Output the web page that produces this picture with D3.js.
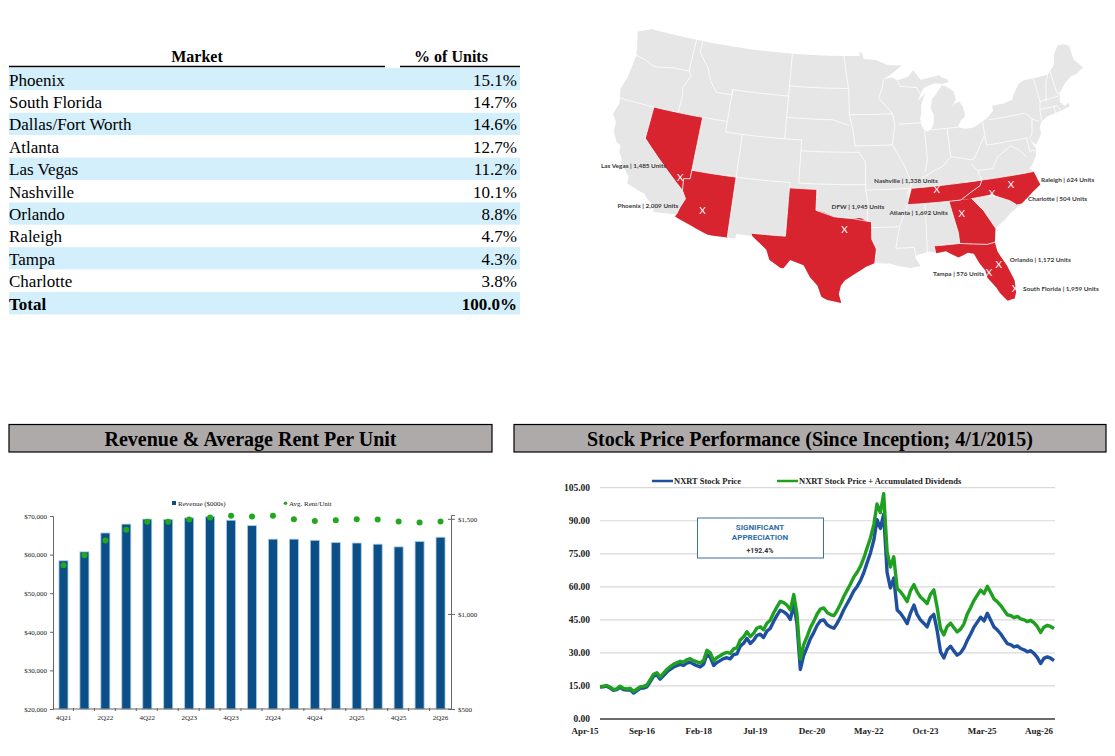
<!DOCTYPE html>
<html>
<head>
<meta charset="utf-8">
<script src="https://cdn.jsdelivr.net/npm/d3@7"></script>
<style>
  body { margin: 0; background: #fff; }
  svg { display: block; }
</style>
</head>
<body>
<svg id="page" width="1115" height="756"></svg>
<script>
// ---- market table ----
const markets = ["Phoenix", "South Florida", "Dallas/Fort Worth", "Atlanta", "Las Vegas",
  "Nashville", "Orlando", "Raleigh", "Tampa", "Charlotte"];
const unitShare = [15.1, 14.7, 14.6, 12.7, 11.2, 10.1, 8.8, 4.7, 4.3, 3.8];
const shareTotal = 100.0;

// ---- map cities ----
const cities = ["Las Vegas", "Phoenix", "DFW", "Nashville", "Atlanta", "Raleigh",
  "Charlotte", "Orlando", "Tampa", "South Florida"];
const cityUnits = [1485, 2009, 1945, 1338, 1692, 624, 504, 1172, 576, 1959];
const cityLonLat = [[-115.15, 36.17], [-112.07, 33.45], [-96.9, 32.8], [-86.78, 36.16],
  [-84.39, 33.75], [-78.64, 35.78], [-80.84, 35.23], [-81.38, 28.54], [-82.46, 27.95], [-80.2, 26.1]];

// ---- revenue & rent ----
const quarters = ["4Q21", "1Q22", "2Q22", "3Q22", "4Q22", "1Q23", "2Q23", "3Q23", "4Q23", "1Q24",
  "2Q24", "3Q24", "4Q24", "1Q25", "2Q25", "3Q25", "4Q25", "1Q26", "2Q26"];
const revenue = [58400, 60700, 65600, 67900, 69200, 69100, 69500, 69800, 68900, 67500,
  64000, 64000, 63700, 63100, 63000, 62700, 62000, 63400, 64500];
const avgRent = [1256, 1309, 1386, 1442, 1484, 1484, 1496, 1507, 1516, 1512,
  1516, 1498, 1489, 1493, 1498, 1496, 1486, 1480, 1486];
const revTicks = [20000, 30000, 40000, 50000, 60000, 70000];
const rentTicks = [500, 1000, 1500];

// ---- stock price (monthly, from Apr-15) ----
const stockStart = new Date(2015, 3, 1);
const stockPrice = [
  14.5, 14.6, 14.9, 14.1, 13.0, 13.3, 14.4, 13.4, 13.1, 13.3, 11.8, 12.8,
  13.9, 14.0, 14.6, 16.8, 19.4, 20.0, 18.1, 19.7, 21.4, 22.6, 23.6, 24.2,
  24.8, 24.3, 25.4, 25.8, 24.9, 24.2, 23.6, 24.9, 29.3, 28.0, 24.3, 25.6,
  26.5, 27.4, 27.8, 27.3, 29.2, 29.6, 33.1, 34.4, 36.6, 34.3, 35.8, 37.9,
  38.5, 37.0, 39.9, 41.1, 44.3, 47.0, 49.4, 48.7, 47.5, 45.2, 52.1, 43.2,
  22.5, 28.8, 32.5, 36.4, 39.2, 42.5, 44.6, 45.0, 42.8, 41.8, 41.2, 43.3,
  46.2, 49.5, 52.3, 55.0, 58.1, 60.2, 62.8, 66.5, 71.0, 75.5, 81.5, 90.5,
  86.5, 93.0, 66.5, 59.5, 64.0, 49.5, 48.0, 45.8, 43.3, 48.2, 51.7, 47.5,
  45.0, 43.5, 41.8, 46.0, 47.5, 40.0, 30.5, 27.7, 31.5, 33.0, 30.8, 29.0,
  30.0, 32.2, 35.7, 38.5, 41.7, 44.0, 46.2, 44.5, 48.0, 44.8, 41.7, 40.5,
  38.7, 36.5, 34.2, 33.8, 32.7, 33.2, 32.0, 31.4, 30.5, 31.0, 29.7, 28.0,
  25.2, 27.5, 28.2, 27.6, 26.5];
const stockWithDiv = [
  14.7, 14.9, 15.2, 14.5, 13.4, 13.7, 14.9, 13.9, 13.6, 13.9, 12.5, 13.5,
  14.6, 14.8, 15.4, 17.7, 20.3, 21.0, 19.1, 20.8, 22.5, 23.8, 24.9, 25.5,
  26.2, 25.8, 26.9, 27.4, 26.5, 25.9, 25.4, 26.7, 31.2, 30.0, 26.4, 27.8,
  28.7, 29.7, 30.2, 29.8, 31.8, 32.3, 35.9, 37.3, 39.6, 37.4, 39.0, 41.2,
  41.9, 40.5, 43.5, 44.8, 48.1, 50.9, 53.4, 52.8, 51.7, 49.5, 56.5, 47.7,
  27.2, 33.6, 37.4, 41.4, 44.3, 47.7, 49.9, 50.4, 48.3, 47.4, 46.9, 49.1,
  52.1, 55.5, 58.4, 61.2, 64.4, 66.6, 69.3, 73.1, 77.7, 82.3, 88.5, 97.6,
  93.7, 102.3, 75.9, 69.0, 73.6, 59.2, 57.8, 55.7, 53.3, 58.3, 61.0, 57.8,
  55.4, 54.0, 52.4, 56.5, 58.6, 50.5, 41.0, 38.2, 42.0, 43.5, 41.4, 39.5,
  40.8, 43.1, 47.6, 50.5, 53.8, 56.2, 58.5, 56.9, 60.2, 57.4, 54.4, 53.3,
  51.6, 49.5, 47.3, 47.0, 46.0, 46.6, 45.5, 45.0, 44.2, 44.8, 43.6, 42.0,
  39.3, 41.7, 42.5, 42.0, 41.0];
const stockYTicks = [0, 15, 30, 45, 60, 75, 90, 105];

// ---- map geometry (lon, lat) ----
const usOutline = [
  [-124.7, 48.4], [-123.0, 49.0], [-95.15, 49.0], [-95.15, 49.38], [-94.8, 49.3], [-94.6, 48.7],
  [-93.0, 48.6], [-91.4, 48.05], [-89.6, 48.0], [-90.9, 47.3], [-92.1, 46.75], [-91.0, 46.9],
  [-90.4, 46.6], [-89.0, 46.85], [-88.2, 47.45], [-88.0, 47.2], [-87.4, 46.5], [-86.4, 46.6],
  [-85.0, 46.75], [-84.6, 46.45], [-84.0, 46.3], [-83.9, 46.0], [-84.7, 45.9], [-85.6, 46.05],
  [-86.6, 45.85], [-87.1, 45.7], [-87.6, 45.1], [-88.0, 44.55], [-87.5, 44.85], [-87.0, 45.25],
  [-87.6, 44.1], [-87.7, 43.3], [-87.9, 42.9], [-87.8, 42.3], [-87.6, 41.85], [-87.2, 41.62],
  [-86.6, 41.9], [-86.3, 42.4], [-86.2, 43.1], [-86.5, 43.8], [-86.2, 44.6], [-85.6, 45.05],
  [-85.0, 45.6], [-84.75, 45.78], [-84.2, 45.6], [-83.4, 45.05], [-83.3, 44.3], [-83.9, 43.65],
  [-83.5, 43.95], [-82.9, 44.05], [-82.6, 43.6], [-82.45, 42.95], [-82.5, 42.6], [-83.1, 42.3],
  [-83.5, 41.73], [-82.7, 41.5], [-81.7, 41.5], [-80.5, 41.95], [-79.8, 42.25], [-79.0, 42.8],
  [-79.05, 43.25], [-77.6, 43.25], [-76.5, 43.45], [-76.2, 43.9], [-75.3, 44.8], [-74.7, 45.0],
  [-71.5, 45.01], [-71.1, 45.3], [-70.6, 45.6], [-70.3, 45.9], [-70.0, 46.7], [-69.2, 47.45],
  [-68.3, 47.35], [-67.8, 47.07], [-67.8, 45.7], [-67.4, 45.3], [-67.0, 44.8], [-68.0, 44.4],
  [-68.8, 44.3], [-69.8, 43.8], [-70.7, 43.1], [-70.8, 42.7], [-71.0, 42.3], [-70.5, 41.8],
  [-70.0, 42.05], [-69.95, 41.7], [-70.6, 41.55], [-71.4, 41.45], [-72.9, 41.25], [-73.7, 40.9],
  [-74.0, 40.5], [-74.1, 39.8], [-74.95, 38.93], [-75.5, 39.5], [-75.05, 38.6], [-75.2, 38.0],
  [-75.9, 37.15], [-76.3, 36.95], [-75.9, 36.55], [-75.5, 35.25], [-76.5, 34.7], [-77.9, 33.85],
  [-79.2, 33.2], [-80.0, 32.6], [-81.1, 32.0], [-81.4, 30.7], [-81.3, 29.8], [-80.6, 28.4],
  [-80.1, 26.9], [-80.15, 25.8], [-80.4, 25.2], [-81.1, 25.1], [-81.7, 25.9], [-82.0, 26.5],
  [-82.7, 27.5], [-82.8, 28.2], [-83.3, 29.0], [-83.7, 29.9], [-84.3, 30.05], [-85.3, 29.7],
  [-86.5, 30.4], [-87.5, 30.3], [-88.1, 30.5], [-89.4, 30.3], [-89.7, 30.1], [-89.2, 29.2],
  [-90.2, 29.1], [-91.3, 29.3], [-92.3, 29.6], [-93.8, 29.7], [-94.7, 29.35], [-95.8, 28.7],
  [-96.8, 28.1], [-97.2, 27.6], [-97.4, 26.8], [-97.15, 25.95], [-98.5, 26.2], [-99.1, 26.5],
  [-99.5, 27.5], [-100.3, 28.3], [-101.0, 29.4], [-102.4, 29.8], [-103.0, 29.0], [-103.3, 29.0],
  [-104.5, 29.7], [-104.9, 30.6], [-106.5, 31.75], [-108.2, 31.78], [-108.2, 31.33], [-111.07, 31.33],
  [-114.8, 32.5], [-114.7, 32.72], [-117.1, 32.53], [-117.3, 33.1], [-118.3, 33.75], [-118.5, 34.0],
  [-119.2, 34.15], [-120.6, 34.55], [-120.65, 35.2], [-121.9, 36.3], [-121.9, 36.6], [-122.4, 37.2],
  [-122.5, 37.8], [-123.0, 38.0], [-123.7, 38.9], [-123.8, 39.8], [-124.4, 40.4], [-124.1, 41.5],
  [-124.2, 42.0], [-124.5, 42.8], [-124.1, 44.0], [-123.9, 46.2], [-124.1, 46.9], [-124.7, 48.4]
];

const redStates = [
  // Nevada
  [[-120.0, 42.0], [-114.04, 42.0], [-114.04, 36.2], [-114.75, 36.1], [-114.6, 35.0], [-120.0, 39.0], [-120.0, 42.0]],
  // Arizona
  [[-114.04, 37.0], [-109.05, 37.0], [-109.05, 31.33], [-111.07, 31.33], [-114.8, 32.5], [-114.7, 32.72],
   [-114.5, 33.4], [-114.1, 34.3], [-114.6, 35.0], [-114.75, 36.1], [-114.04, 36.2], [-114.04, 37.0]],
  // Texas
  [[-103.04, 36.5], [-100.0, 36.5], [-100.0, 34.56], [-99.2, 34.4], [-98.0, 34.0], [-96.9, 33.9], [-96.0, 33.85],
   [-95.2, 33.9], [-94.5, 33.6], [-94.05, 33.55], [-94.05, 31.9], [-93.6, 31.0], [-93.8, 29.7], [-94.7, 29.35],
   [-95.8, 28.7], [-96.8, 28.1], [-97.2, 27.6], [-97.4, 26.8], [-97.15, 25.95], [-98.5, 26.2], [-99.1, 26.5],
   [-99.5, 27.5], [-100.3, 28.3], [-101.0, 29.4], [-102.4, 29.8], [-103.0, 29.0], [-103.3, 29.0], [-104.5, 29.7],
   [-104.9, 30.6], [-106.5, 31.75], [-106.6, 32.0], [-103.06, 32.0], [-103.04, 36.5]],
  // Tennessee
  [[-90.3, 35.0], [-84.3, 35.0], [-83.1, 35.6], [-82.0, 36.1], [-81.7, 36.6], [-83.7, 36.6], [-88.1, 36.5],
   [-89.5, 36.5], [-89.7, 36.0], [-90.1, 35.1], [-90.3, 35.0]],
  // North Carolina
  [[-84.3, 35.0], [-83.1, 35.0], [-80.9, 35.1], [-79.1, 34.3], [-78.5, 33.85], [-77.9, 33.85], [-76.5, 34.7],
   [-75.5, 35.25], [-75.9, 36.55], [-81.7, 36.6], [-82.0, 36.1], [-83.1, 35.6], [-84.3, 35.0]],
  // Georgia
  [[-85.6, 35.0], [-83.1, 35.0], [-82.0, 33.7], [-81.1, 32.0], [-81.4, 30.7], [-82.2, 30.6], [-85.0, 31.0],
   [-85.0, 32.0], [-85.6, 35.0]],
  // Florida
  [[-87.6, 31.0], [-85.0, 31.0], [-82.2, 30.6], [-81.4, 30.7], [-81.3, 29.8], [-80.6, 28.4], [-80.1, 26.9],
   [-80.15, 25.8], [-80.4, 25.2], [-81.1, 25.1], [-81.7, 25.9], [-82.0, 26.5], [-82.7, 27.5], [-82.8, 28.2],
   [-83.3, 29.0], [-83.7, 29.9], [-84.3, 30.05], [-85.3, 29.7], [-86.5, 30.4], [-87.5, 30.3], [-87.6, 31.0]]
];

const stateBorders = [
  [[-124.0, 46.25], [-122.9, 46.1], [-121.2, 45.65], [-119.0, 45.95], [-116.9, 46.0]],
  [[-116.9, 49.0], [-116.9, 46.0], [-116.5, 45.6], [-117.2, 44.3], [-117.0, 43.8], [-117.03, 42.0]],
  [[-124.2, 42.0], [-111.05, 42.0]],
  [[-120.0, 42.0], [-120.0, 39.0], [-114.6, 35.0]],
  [[-114.6, 35.0], [-114.75, 36.1], [-114.04, 36.2], [-114.04, 42.0]],
  [[-114.6, 35.0], [-114.1, 34.3], [-114.5, 33.4], [-114.7, 32.72]],
  [[-114.04, 37.0], [-103.0, 37.0]],
  [[-109.05, 31.33], [-109.05, 41.0]],
  [[-103.0, 37.0], [-103.04, 36.5], [-103.06, 32.0], [-106.6, 32.0]],
  [[-111.05, 42.0], [-111.05, 41.0], [-102.05, 41.0]],
  [[-116.05, 49.0], [-116.05, 47.9], [-114.6, 46.6], [-114.0, 45.5], [-113.0, 44.5], [-111.05, 44.5], [-111.05, 45.0]],
  [[-111.05, 45.0], [-104.05, 45.0]],
  [[-111.05, 45.0], [-111.05, 42.0]],
  [[-102.05, 41.0], [-102.05, 37.0]],
  [[-104.05, 49.0], [-104.05, 41.0]],
  [[-104.05, 45.94], [-96.56, 45.94]],
  [[-104.05, 43.0], [-98.5, 43.0], [-96.5, 42.5]],
  [[-102.05, 40.0], [-95.3, 40.0]],
  [[-102.05, 37.0], [-94.6, 37.0]],
  [[-103.0, 36.5], [-100.0, 36.5], [-100.0, 34.56], [-98.0, 34.0], [-96.0, 33.85], [-94.5, 33.6], [-94.05, 33.55]],
  [[-95.3, 40.0], [-94.6, 39.1], [-94.6, 36.5], [-94.4, 35.4], [-94.5, 33.6]],
  [[-94.05, 33.55], [-94.05, 31.9], [-93.6, 31.0], [-93.8, 29.7]],
  [[-94.05, 33.0], [-91.2, 33.0]],
  [[-97.2, 49.0], [-96.6, 46.0], [-96.56, 45.94], [-96.45, 43.5], [-91.2, 43.5]],
  [[-96.45, 43.5], [-96.0, 42.0], [-95.77, 40.6], [-91.4, 40.6]],
  [[-94.6, 36.5], [-89.7, 36.5], [-90.1, 36.0]],
  [[-91.2, 43.5], [-91.0, 42.5], [-91.4, 40.6], [-90.2, 38.7], [-89.5, 37.0], [-89.7, 36.5], [-90.1, 35.0],
   [-91.1, 33.0], [-91.6, 31.0], [-89.7, 31.0], [-89.6, 30.2]],
  [[-92.1, 46.75], [-92.3, 46.0], [-92.8, 45.0], [-91.2, 43.5]],
  [[-90.6, 42.5], [-87.8, 42.5]],
  [[-90.4, 46.6], [-90.0, 46.0], [-88.0, 45.8], [-87.6, 45.1]],
  [[-87.5, 41.7], [-87.5, 39.0], [-87.9, 37.9]],
  [[-89.1, 37.0], [-88.0, 37.5], [-87.0, 37.9], [-85.8, 38.3], [-84.8, 39.1], [-82.6, 38.6], [-82.2, 38.6], [-80.6, 40.6]],
  [[-84.8, 41.7], [-84.8, 39.1]],
  [[-87.2, 41.76], [-83.5, 41.73]],
  [[-80.52, 41.95], [-80.52, 39.72], [-75.8, 39.72]],
  [[-79.76, 42.0], [-75.4, 42.0], [-75.1, 41.8], [-74.7, 41.35]],
  [[-89.5, 36.5], [-81.7, 36.6]],
  [[-90.3, 35.0], [-84.3, 35.0], [-83.1, 35.6], [-82.0, 36.1], [-81.7, 36.6]],
  [[-83.7, 36.6], [-75.9, 36.55]],
  [[-83.1, 35.0], [-80.9, 35.1], [-79.1, 34.3], [-78.5, 33.85]],
  [[-83.1, 35.0], [-82.0, 33.7], [-81.1, 32.0]],
  [[-85.6, 35.0], [-85.0, 32.0], [-85.0, 31.0], [-82.2, 30.6], [-81.4, 30.7]],
  [[-88.2, 35.0], [-88.4, 30.4]],
  [[-87.6, 31.0], [-85.0, 31.0]],
  [[-82.6, 38.2], [-82.0, 37.5], [-81.7, 36.6]],
  [[-82.0, 37.5], [-80.3, 37.5], [-79.5, 38.5], [-77.8, 39.3], [-77.0, 38.8], [-76.3, 38.0]],
  [[-75.8, 39.72], [-75.8, 38.45], [-75.05, 38.45]],
  [[-74.7, 41.35], [-75.1, 40.0], [-75.5, 39.6]],
  [[-74.7, 41.35], [-74.0, 41.0]],
  [[-73.35, 45.0], [-73.25, 42.75], [-73.5, 42.05], [-73.65, 41.0]],
  [[-73.25, 42.75], [-70.8, 42.87]],
  [[-73.5, 42.05], [-71.8, 42.0], [-71.8, 41.3]],
  [[-71.8, 42.0], [-71.4, 42.0], [-71.1, 41.5]],
  [[-72.5, 42.73], [-72.0, 44.3], [-71.5, 45.0]],
  [[-71.1, 45.3], [-71.0, 43.1], [-70.7, 43.1]]
];

// label placement next to each city marker
const cityLabelLayout = [
  { anchor: "end", dx: -14, dy: -9 }, { anchor: "end", dx: -24, dy: -3 },
  { anchor: "start", dx: -13, dy: -21 }, { anchor: "end", dx: 1, dy: -7 },
  { anchor: "end", dx: -14, dy: 2 }, { anchor: "start", dx: 30, dy: -2 },
  { anchor: "start", dx: 36, dy: 8 }, { anchor: "start", dx: 11, dy: -3 },
  { anchor: "end", dx: -5, dy: 3 }, { anchor: "start", dx: 8, dy: 2 }
];

const svg = d3.select("#page");
const serif = "'Liberation Serif', 'Times New Roman', serif";

// ================= table =================
function drawTable() {
  const g = svg.append("g");
  const x0 = 9, x1 = 520, top = 68, rowH = 22.4;
  const rows = markets.map((m, i) => ({ name: m, pct: unitShare[i], bold: false }));
  rows.push({ name: "Total", pct: shareTotal, bold: true });

  g.append("text").attr("x", 197).attr("y", 62).attr("text-anchor", "middle")
    .attr("font-family", serif).attr("font-weight", "bold").attr("font-size", 16).text("Market");
  g.append("text").attr("x", 451).attr("y", 62).attr("text-anchor", "middle")
    .attr("font-family", serif).attr("font-weight", "bold").attr("font-size", 16).text("% of Units");
  g.append("line").attr("x1", x0).attr("x2", 385).attr("y1", 66.5).attr("y2", 66.5)
    .attr("stroke", "#000").attr("stroke-width", 1.3);
  g.append("line").attr("x1", 400).attr("x2", x1).attr("y1", 66.5).attr("y2", 66.5)
    .attr("stroke", "#000").attr("stroke-width", 1.3);

  const row = g.selectAll("g.row").data(rows).join("g").attr("class", "row")
    .attr("transform", (d, i) => `translate(0,${top + i * rowH})`);
  row.append("rect").attr("x", x0).attr("width", x1 - x0).attr("height", rowH)
    .attr("fill", (d, i) => i % 2 === 0 ? "#d3effb" : "#fff");
  row.append("text").attr("x", x0).attr("y", 17.5)
    .attr("font-family", serif).attr("font-size", 17)
    .attr("font-weight", d => d.bold ? "bold" : "normal").text(d => d.name);
  row.append("text").attr("x", x1 - 3).attr("y", 17.5).attr("text-anchor", "end")
    .attr("font-family", serif).attr("font-size", 17)
    .attr("font-weight", d => d.bold ? "bold" : "normal").text(d => d3.format(".1f")(d.pct) + "%");
}

// ================= map =================
function densify(coords, step) {
  const out = [];
  for (let i = 0; i < coords.length - 1; i++) {
    const a = coords[i], b = coords[i + 1];
    const n = Math.max(1, Math.ceil(Math.max(Math.abs(b[0] - a[0]), Math.abs(b[1] - a[1])) / step));
    for (let k = 0; k < n; k++) out.push([a[0] + (b[0] - a[0]) * k / n, a[1] + (b[1] - a[1]) * k / n]);
  }
  out.push(coords[coords.length - 1]);
  return out;
}
function polygon(coords) {
  return { type: "Polygon", coordinates: [densify(coords, 0.5)] };
}

function drawMap() {
  const g = svg.append("g");
  const outline = polygon(usOutline);
  // Albers conic, stretched to the box the reference map fills
  const albers = d3.geoAlbers().fitSize([1000, 600], outline);
  const b = d3.geoPath(albers).bounds(outline);
  const box = [[613, 29], [1083, 303]];
  const sx = (box[1][0] - box[0][0]) / (b[1][0] - b[0][0]);
  const sy = (box[1][1] - box[0][1]) / (b[1][1] - b[0][1]);
  const project = c => {
    const p = albers(c);
    return [box[0][0] + (p[0] - b[0][0]) * sx, box[0][1] + (p[1] - b[0][1]) * sy];
  };
  const path = d3.geoPath(d3.geoTransform({
    point(lon, lat) { const p = project([lon, lat]); this.stream.point(p[0], p[1]); }
  }));

  g.append("path").datum(outline).attr("d", path).attr("fill", "#e6e6e6");
  g.selectAll("path.red").data(redStates.map(polygon)).join("path").attr("class", "red")
    .attr("d", path).attr("fill", "#d7242f");
  g.append("path")
    .datum({ type: "MultiLineString", coordinates: stateBorders.map(s => densify(s, 0.5)) })
    .attr("d", path).attr("fill", "none").attr("stroke", "#fff").attr("stroke-width", 0.8);

  const pts = cityLonLat.map(project);
  g.selectAll("text.x").data(pts).join("text").attr("class", "x")
    .attr("x", d => d[0]).attr("y", d => d[1] + 3.5).attr("text-anchor", "middle")
    .attr("font-family", "Lato, sans-serif").attr("font-size", 10).attr("fill", "#fff").text("X");
  g.selectAll("text.lbl").data(cities).join("text").attr("class", "lbl")
    .attr("x", (d, i) => pts[i][0] + cityLabelLayout[i].dx)
    .attr("y", (d, i) => pts[i][1] + cityLabelLayout[i].dy)
    .attr("text-anchor", (d, i) => cityLabelLayout[i].anchor)
    .attr("font-family", "Lato, sans-serif").attr("font-weight", "bold").attr("font-size", 6.4)
    .attr("fill", "#3a3a3a")
    .text((d, i) => `${d} | ${d3.format(",")(cityUnits[i])} Units`);
}

// ================= title boxes =================
function titleBox(x, w, label) {
  svg.append("rect").attr("x", x).attr("y", 424.5).attr("width", w).attr("height", 27.5)
    .attr("fill", "#aeaaaa").attr("stroke", "#000").attr("stroke-width", 1.2);
  svg.append("text").attr("x", x + w / 2).attr("y", 446).attr("text-anchor", "middle")
    .attr("font-family", serif).attr("font-weight", "bold").attr("font-size", 20).text(label);
}

// ================= revenue chart =================
function drawRevenue() {
  const g = svg.append("g").attr("font-family", serif);
  const x = d3.scaleBand().domain(quarters).range([53, 451]).paddingInner(0.57).paddingOuter(0.285);
  const yL = d3.scaleLinear().domain([20000, 70000]).range([709, 516]);
  const yR = d3.scaleLinear().domain([500, 1520]).range([709, 515]);

  g.selectAll("rect.bar").data(revenue).join("rect").attr("class", "bar")
    .attr("x", (d, i) => x(quarters[i])).attr("width", x.bandwidth())
    .attr("y", d => yL(d)).attr("height", d => yL(20000) - yL(d))
    .attr("fill", "#0b4f86").attr("stroke", "#a8cbe9").attr("stroke-width", 0.8);

  g.selectAll("circle.rent").data(avgRent).join("circle").attr("class", "rent")
    .attr("cx", (d, i) => x(quarters[i]) + x.bandwidth() / 2).attr("cy", d => yR(d))
    .attr("r", 3).attr("fill", "#22a81e");

  const left = g.append("g").attr("transform", "translate(53,0)")
    .call(d3.axisLeft(yL).tickValues(revTicks).tickFormat(d3.format("$,")).tickSize(3).tickPadding(3));
  const right = g.append("g").attr("transform", "translate(451,0)")
    .call(d3.axisRight(yR).tickValues(rentTicks).tickFormat(d3.format("$,")).tickSize(4).tickPadding(3));
  right.selectAll(".tick line").attr("x1", -3);
  const bottom = g.append("g").attr("transform", "translate(0,709)")
    .call(d3.axisBottom(x).tickSize(0).tickPadding(6)
      .tickFormat((d, i) => i % 2 === 0 ? d : ""));
  bottom.select(".domain").attr("d", "M53,0H451");
  [left, right, bottom].forEach(a => {
    a.selectAll("text").attr("font-family", serif).attr("font-size", 7).attr("fill", "#222");
    a.select(".domain").attr("stroke", "#666");
    a.selectAll(".tick line").attr("stroke", "#666");
  });
  // tick marks between quarters
  g.selectAll("line.qtick").data(quarters.slice(1)).join("line").attr("class", "qtick")
    .attr("x1", d => x(d) - x.step() * x.paddingInner() / 2 - 0.5)
    .attr("x2", d => x(d) - x.step() * x.paddingInner() / 2 - 0.5)
    .attr("y1", 708).attr("y2", 711).attr("stroke", "#666");

  // legend
  g.append("rect").attr("x", 172).attr("y", 501).attr("width", 4).attr("height", 4).attr("fill", "#0b4f86");
  g.append("text").attr("x", 178).attr("y", 505.5).attr("font-size", 7).attr("fill", "#222").text("Revenue ($000s)");
  g.append("circle").attr("cx", 285.5).attr("cy", 503.2).attr("r", 1.8).attr("fill", "#22a81e");
  g.append("text").attr("x", 289).attr("y", 505.5).attr("font-size", 7).attr("fill", "#222").text("Avg. Rent/Unit");
}

// ================= stock chart =================
function drawStock() {
  const g = svg.append("g").attr("font-family", serif);
  const dates = stockPrice.map((d, i) => d3.timeMonth.offset(stockStart, i));
  const x = d3.scaleTime().domain([stockStart, dates[dates.length - 1]]).range([600, 1054]);
  const y = d3.scaleLinear().domain([0, 105]).range([719, 487.7]);

  g.selectAll("line.grid").data(stockYTicks.slice(1)).join("line").attr("class", "grid")
    .attr("x1", 600).attr("x2", 1055).attr("y1", d => y(d)).attr("y2", d => y(d))
    .attr("stroke", "#d9d9d9").attr("stroke-width", 1.2);
  g.append("line").attr("x1", 600).attr("x2", 1055).attr("y1", y(0)).attr("y2", y(0))
    .attr("stroke", "#3a3a3a").attr("stroke-width", 1.6);

  g.selectAll("text.yl").data(stockYTicks).join("text").attr("class", "yl")
    .attr("x", 590).attr("y", d => y(d) + 3).attr("text-anchor", "end")
    .attr("font-weight", "bold").attr("font-size", 9.5).attr("fill", "#222").text(d3.format(".2f"));

  const xTicks = d3.range(9).map(i => d3.timeMonth.offset(stockStart, 17 * i));
  g.selectAll("text.xl").data(xTicks).join("text").attr("class", "xl")
    .attr("x", d => x(d) - 15).attr("y", 734).attr("text-anchor", "middle")
    .attr("font-weight", "bold").attr("font-size", 9).attr("fill", "#222").text(d3.timeFormat("%b-%y"));

  const line = d3.line().x((d, i) => x(dates[i])).y(d => y(d));
  g.append("path").datum(stockPrice).attr("d", line).attr("fill", "none")
    .attr("stroke", "#1f4f9f").attr("stroke-width", 3.4).attr("stroke-linejoin", "round");
  g.append("path").datum(stockWithDiv).attr("d", line).attr("fill", "none")
    .attr("stroke", "#20a020").attr("stroke-width", 3.4).attr("stroke-linejoin", "round");

  // legend
  g.append("line").attr("x1", 652).attr("x2", 673).attr("y1", 481).attr("y2", 481)
    .attr("stroke", "#1f4f9f").attr("stroke-width", 2.5);
  g.append("text").attr("x", 674).attr("y", 484).attr("font-weight", "bold").attr("font-size", 8.5)
    .attr("fill", "#222").text("NXRT Stock Price");
  g.append("line").attr("x1", 777).attr("x2", 798).attr("y1", 481).attr("y2", 481)
    .attr("stroke", "#20a020").attr("stroke-width", 2.5);
  g.append("text").attr("x", 799).attr("y", 484).attr("font-weight", "bold").attr("font-size", 8.5)
    .attr("fill", "#222").text("NXRT Stock Price + Accumulated Dividends");

  // annotation
  g.append("rect").attr("x", 697.5).attr("y", 518).attr("width", 126).attr("height", 40)
    .attr("fill", "#fff").attr("stroke", "#3e6fa3").attr("stroke-width", 1);
  const ann = g.append("g").attr("font-family", "Roboto, 'DejaVu Sans', sans-serif")
    .attr("text-anchor", "middle").attr("font-weight", "bold");
  ann.append("text").attr("x", 760).attr("y", 529.5).attr("font-size", 8).attr("fill", "#2f6eab").text("SIGNIFICANT");
  ann.append("text").attr("x", 760).attr("y", 539.5).attr("font-size", 8).attr("fill", "#2f6eab").text("APPRECIATION");
  ann.append("text").attr("x", 760).attr("y", 553).attr("font-size", 7).attr("fill", "#333").text("+192.4%");
}

drawTable();
drawMap();
titleBox(9, 483, "Revenue & Average Rent Per Unit");
titleBox(514, 592, "Stock Price Performance (Since Inception; 4/1/2015)");
drawRevenue();
drawStock();
</script>
</body>
</html>
